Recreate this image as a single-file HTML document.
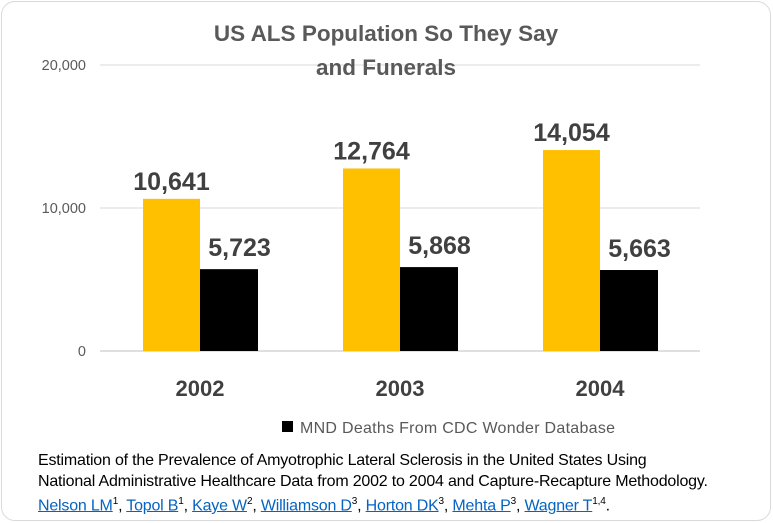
<!DOCTYPE html>
<html><head><meta charset="utf-8"><style>
body{margin:0;background:#fff;font-family:"Liberation Sans",sans-serif}
#wrap{position:relative;width:773px;height:523px;overflow:hidden}
#frame{position:absolute;left:1px;top:1px;width:770px;height:520px;border:1.5px solid #d9d9d9;border-radius:14px;box-sizing:border-box}
.foot{position:absolute;left:38px;top:451px;font-size:16px;line-height:20.5px;color:#000;font-family:"Liberation Sans Narrow","Liberation Sans",sans-serif;letter-spacing:-0.2px}
.foot a{color:#0563c1;text-decoration:underline}
</style></head><body>
<div id="wrap">
<div id="frame"></div>
<svg id="chart" width="773" height="523" style="position:absolute;left:0;top:0"></svg>
<div class="foot">Estimation of the Prevalence of Amyotrophic Lateral Sclerosis in the United States Using<br>National Administrative Healthcare Data from 2002 to 2004 and Capture-Recapture Methodology.<br><a>Nelson LM</a><sup style="font-size:10px">1</sup>, <a>Topol B</a><sup style="font-size:10px">1</sup>, <a>Kaye W</a><sup style="font-size:10px">2</sup>, <a>Williamson D</a><sup style="font-size:10px">3</sup>, <a>Horton DK</a><sup style="font-size:10px">3</sup>, <a>Mehta P</a><sup style="font-size:10px">3</sup>, <a>Wagner T</a><sup style="font-size:10px">1,4</sup>.</div>
</div>
<script>
const categories=["2002","2003","2004"];
const alsValues=[10641,12764,14054];
const mndValues=[5723,5868,5663];
const tickValues=[0,10000,20000];
const tickLabels=["0","10,000","20,000"];
const NS="http://www.w3.org/2000/svg";
const svg=document.getElementById('chart');
const x0=100,x1=700,y0=351,yMax=20000,yTop=65;
const y=v=>y0-(v/yMax)*(y0-yTop);
const band=(x1-x0)/categories.length;
const xc=i=>x0+band*(i+0.5);
function mk(t,a){const e=document.createElementNS(NS,t);for(const k in a)e.setAttribute(k,a[k]);svg.appendChild(e);return e;}
const fmt=v=>v.toLocaleString('en-US');
tickValues.forEach((v,i)=>{
 const l=mk('line',{x1:x0,x2:x1,y1:y(v),y2:y(v),stroke:v===0?'#bfbfbf':'#d9d9d9','stroke-width':1});
 
 const tx=mk('text',{x:86,y:y(v)+5,'text-anchor':'end','font-size':'14.5',fill:'#595959'});tx.textContent=tickLabels[i];
 
});
let t=mk('text',{x:386,y:41,'text-anchor':'middle','font-size':'22.5','font-weight':'bold',fill:'#595959'});t.textContent='US ALS Population So They Say';

t=mk('text',{x:386,y:75,'text-anchor':'middle','font-size':'22.5','font-weight':'bold',fill:'#595959'});t.textContent='and Funerals';

const bw=57;
categories.forEach((c,i)=>{
 const cx=xc(i);
 const b1=mk('rect',{x:cx-bw,y:y(alsValues[i]),width:bw,height:y0-y(alsValues[i]),fill:'#ffc000'});
 
 const b2=mk('rect',{x:cx,y:y(mndValues[i]),width:bw+1,height:y0-y(mndValues[i]),fill:'#000'});
 
 const l1=mk('text',{x:cx-bw/2,y:y(alsValues[i])-9,'text-anchor':'middle','font-size':'25','font-weight':'bold',fill:'#404040'});l1.textContent=fmt(alsValues[i]);
 
 const l2=mk('text',{x:cx+bw/2+11,y:y(mndValues[i])-13,'text-anchor':'middle','font-size':'25','font-weight':'bold',fill:'#404040'});l2.textContent=fmt(mndValues[i]);
 
 const cl=mk('text',{x:cx,y:396,'text-anchor':'middle','font-size':'22','font-weight':'bold',fill:'#404040'});cl.textContent=c;
 
});
const lg=mk('rect',{x:282,y:421,width:11,height:11,fill:'#000'});

const lt=mk('text',{x:300,y:433,'font-size':'16',fill:'#595959',textLength:315});lt.textContent='MND Deaths From CDC Wonder Database';

</script>
</body></html>
